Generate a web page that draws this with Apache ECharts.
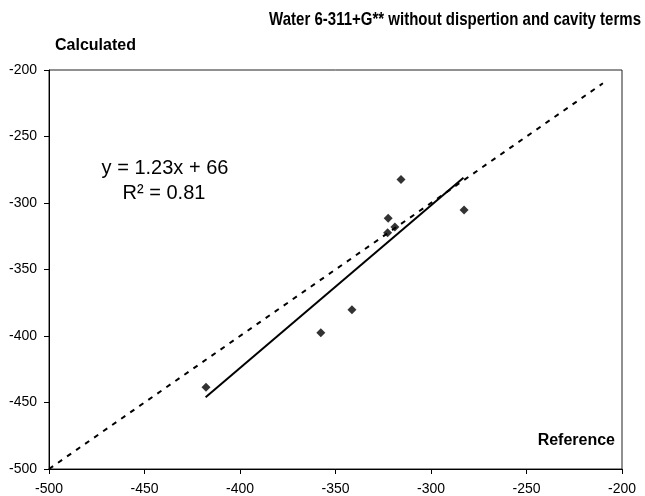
<!DOCTYPE html>
<html>
<head>
<meta charset="utf-8">
<script src="https://cdn.jsdelivr.net/npm/echarts@6/dist/echarts.min.js"></script>
<style>
  html, body { margin: 0; padding: 0; background: #fff; }
  #chart { width: 645px; height: 496px; }
</style>
</head>
<body>
<div id="chart"></div>
<script>
// reference vs calculated values
var refValues = [-417.8, -357.7, -341.4, -322.4, -322.7, -318.9, -315.7, -282.7];
var calcValues = [-438.6, -397.5, -380.3, -311.5, -322.4, -318.0, -282.3, -305.2];
// y = x line and trend line end points
var idealLine = [[-500, -500], [-210, -210]];
var trendLine = [[-418, -446], [-283, -281]];
var axisTicks = [-500, -450, -400, -350, -300, -250, -200];

var points = refValues.map(function (x, i) { return [x, calcValues[i]]; });

var chart = echarts.init(document.getElementById('chart'));
var font = 'Liberation Sans, Arial, sans-serif';

var option = {
  backgroundColor: '#fff',
  animation: false,
  grid: {
    left: 49, right: 23, top: 70, bottom: 25,
    show: true, borderColor: '#222', borderWidth: 1
  },
  xAxis: {
    type: 'value',
    min: axisTicks[0], max: axisTicks[axisTicks.length - 1], interval: 50,
    axisLine: { show: true, onZero: false, lineStyle: { color: '#000' } },
    axisTick: { show: true, length: 5, lineStyle: { color: '#000' } },
    axisLabel: { color: '#000', fontSize: 14, fontFamily: font, margin: 13 },
    splitLine: { show: false }
  },
  yAxis: {
    type: 'value',
    min: axisTicks[0], max: axisTicks[axisTicks.length - 1], interval: 50,
    axisLine: { show: true, onZero: false, lineStyle: { color: '#000' } },
    axisTick: { show: true, length: 5, lineStyle: { color: '#000' } },
    axisLabel: { color: '#000', fontSize: 14, fontFamily: font, margin: 12 },
    splitLine: { show: false }
  },
  graphic: [
    {
      type: 'text', x: 641, y: 20, scaleX: 0.79, originX: 0, originY: 0,
      style: { text: 'Water 6-311+G** without dispertion and cavity terms', fill: '#000',
        font: 'bold 19px ' + font, textAlign: 'right', textVerticalAlign: 'middle' }
    },
    {
      type: 'text', x: 55, y: 46,
      style: { text: 'Calculated', fill: '#000', font: 'bold 16px ' + font, textVerticalAlign: 'middle' }
    },
    {
      type: 'text', x: 615, y: 441,
      style: { text: 'Reference', fill: '#000', font: 'bold 16px ' + font, textAlign: 'right', textVerticalAlign: 'middle' }
    },
    {
      type: 'text', x: 165, y: 168,
      style: { text: 'y = 1.23x + 66', fill: '#000', font: '20px ' + font, textAlign: 'center', textVerticalAlign: 'middle' }
    },
    {
      type: 'text', x: 164, y: 193,
      style: { text: 'R\u00b2 = 0.81', fill: '#000', font: '20px ' + font, textAlign: 'center', textVerticalAlign: 'middle' }
    }
  ],
  series: [
    {
      type: 'line',
      data: idealLine,
      symbol: 'none',
      lineStyle: { color: '#000', width: 2, type: [5, 6] },
      silent: true
    },
    {
      type: 'line',
      data: trendLine,
      symbol: 'none',
      lineStyle: { color: '#000', width: 2 },
      silent: true
    },
    {
      type: 'scatter',
      data: points,
      symbol: 'diamond',
      symbolSize: 9,
      itemStyle: { color: '#000' }
    }
  ]
};

chart.setOption(option);
</script>
</body>
</html>
